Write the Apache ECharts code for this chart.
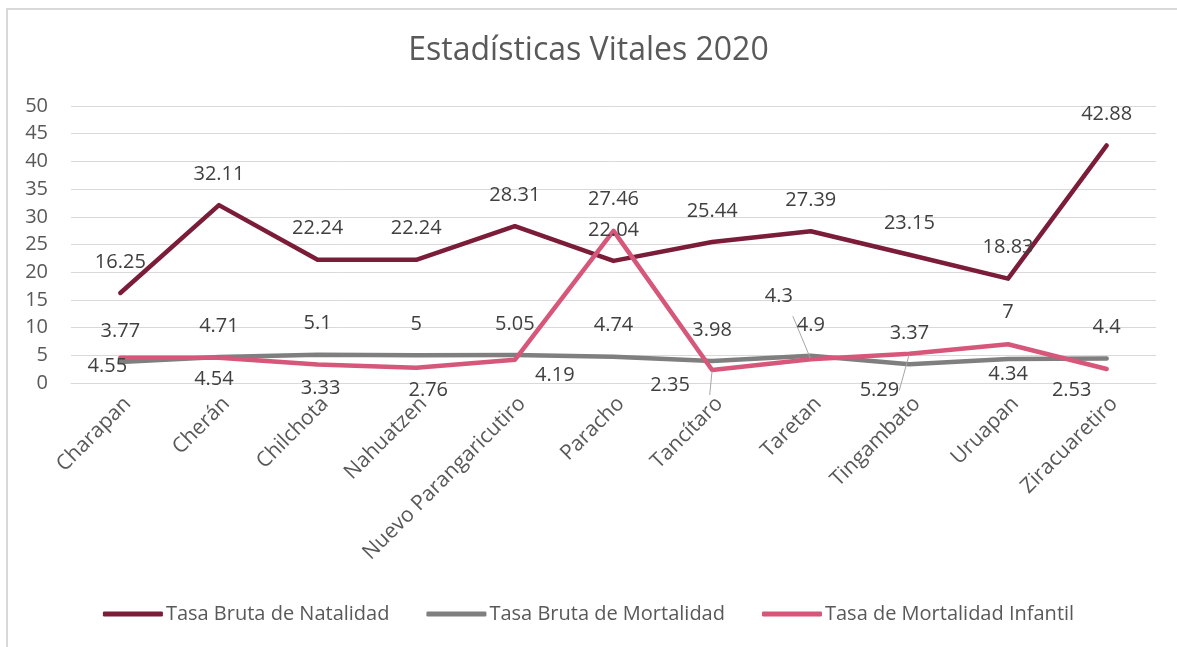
<!DOCTYPE html>
<html>
<head>
<meta charset="utf-8">
<title>Estadísticas Vitales 2020</title>
<script src="https://cdn.jsdelivr.net/npm/echarts@6/dist/echarts.min.js"></script>
<style>
  html, body { margin: 0; padding: 0; background: #fff; }
  #chart { width: 1177px; height: 647px; }
</style>
</head>
<body>
<div id="chart"></div>
<script>
  // datos
  const municipios = ['Charapan', 'Cherán', 'Chilchota', 'Nahuatzen', 'Nuevo Parangaricutiro',
    'Paracho', 'Tancítaro', 'Taretan', 'Tingambato', 'Uruapan', 'Ziracuaretiro'];
  const natalidad = [16.25, 32.11, 22.24, 22.24, 28.31, 22.04, 25.44, 27.39, 23.15, 18.83, 42.88];
  const mortalidad = [3.77, 4.71, 5.1, 5, 5.05, 4.74, 3.98, 4.9, 3.37, 4.34, 4.4];
  const infantil = [4.55, 4.54, 3.33, 2.76, 4.19, 27.46, 2.35, 4.3, 5.29, 7, 2.53];
  const yTicks = [0, 5, 10, 15, 20, 25, 30, 35, 40, 45, 50];

  // posiciones de etiquetas (movidas a mano en el original)
  const offMortalidad = { 9: [0, 15] };
  const offInfantil = [[-13, 9], [-5, 21], [3, 24], [12, 23], [40, 16], [0, -32],
    [-42, 15], [-32, -63], [-30, 37], [0, -32], [-35, 21]];
  const conGuia = [6, 7, 8];

  const txt = '#595959';
  const font = 'Open Sans';

  function puntos(vals, offFn) {
    return vals.map(function (v, i) {
      return { value: v, label: { offset: offFn(i) } };
    });
  }

  const chart = echarts.init(document.getElementById('chart'));
  chart.setOption({
    backgroundColor: '#fff',
    animation: false,
    textStyle: { fontFamily: font },
    graphic: [{
      type: 'rect',
      shape: { x: 7, y: 9, width: 1300, height: 800 },
      style: { fill: 'none', stroke: '#d9d9d9', lineWidth: 2 },
      silent: true
    }],
    title: {
      text: 'Estadísticas Vitales 2020',
      left: 'center',
      top: 30,
      textStyle: { fontFamily: font, fontSize: 32, fontWeight: 'normal', color: txt }
    },
    legend: {
      bottom: 18,
      left: 'center',
      itemWidth: 60,
      itemHeight: 5,
      itemGap: 37,
      icon: 'roundRect',
      textStyle: { fontFamily: font, fontSize: 20, color: txt, padding: [0, 0, 0, -2] },
      data: ['Tasa Bruta de Natalidad', 'Tasa Bruta de Mortalidad', 'Tasa de Mortalidad Infantil']
    },
    grid: { left: 71, right: 21, top: 106, bottom: 264 },
    xAxis: {
      type: 'category',
      data: municipios,
      boundaryGap: true,
      axisLine: { lineStyle: { color: '#d9d9d9', width: 1 } },
      axisTick: { show: false },
      axisLabel: { rotate: 45, margin: 10, fontSize: 21, color: txt, fontFamily: font,
        interval: 0, verticalAlign: 'top' }
    },
    yAxis: {
      type: 'value',
      min: yTicks[0],
      max: yTicks[yTicks.length - 1],
      interval: yTicks[1] - yTicks[0],
      axisLine: { show: false },
      axisTick: { show: false },
      splitLine: { lineStyle: { color: '#d9d9d9', width: 1 } },
      axisLabel: { margin: 23, fontSize: 20, color: txt, fontFamily: font }
    },
    series: [
      {
        name: 'Tasa Bruta de Natalidad',
        type: 'line',
        color: '#7b1c39',
        symbol: 'circle',
        symbolSize: 2,
        lineStyle: { width: 4.5, cap: 'round', join: 'round' },
        label: { show: true, position: 'inside', fontSize: 20, color: '#404040', fontFamily: font },
        data: puntos(natalidad, function () { return [0, -31]; })
      },
      {
        name: 'Tasa Bruta de Mortalidad',
        type: 'line',
        color: '#7f7f7f',
        symbol: 'circle',
        symbolSize: 2,
        lineStyle: { width: 4.5, cap: 'round', join: 'round' },
        label: { show: true, position: 'inside', fontSize: 20, color: '#404040', fontFamily: font },
        data: puntos(mortalidad, function (i) { return offMortalidad[i] || [0, -31]; })
      },
      {
        name: 'Tasa de Mortalidad Infantil',
        type: 'line',
        color: '#d6577a',
        symbol: 'circle',
        symbolSize: 2,
        lineStyle: { width: 4.5, cap: 'round', join: 'round' },
        label: { show: true, position: 'inside', fontSize: 20, color: '#404040', fontFamily: font },
        data: puntos(infantil, function (i) { return offInfantil[i]; }).map(function (d, i) {
          if (conGuia.indexOf(i) >= 0) {
            d.labelLine = { show: true, lineStyle: { color: '#a6a6a6', width: 1 } };
          }
          return d;
        })
      }
    ]
  });
</script>
</body>
</html>
